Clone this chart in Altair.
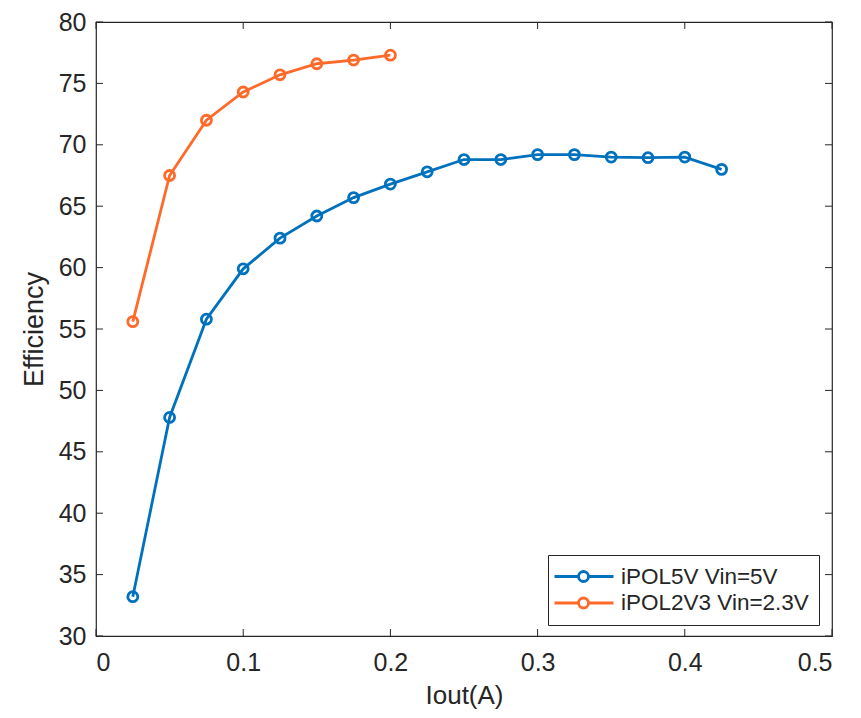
import altair as alt
import pandas as pd

iout_5v = [0.025, 0.05, 0.075, 0.1, 0.125, 0.15, 0.175, 0.2, 0.225, 0.25,
           0.275, 0.3, 0.325, 0.35, 0.375, 0.4, 0.425]
eff_5v = [33.2, 47.8, 55.8, 59.9, 62.4, 64.2, 65.7, 66.8, 67.8, 68.8,
          68.8, 69.2, 69.2, 69.0, 68.95, 69.0, 68.0]
iout_2v3 = [0.025, 0.05, 0.075, 0.1, 0.125, 0.15, 0.175, 0.2]
eff_2v3 = [55.6, 67.5, 72.0, 74.3, 75.7, 76.6, 76.9, 77.3]

series_names = ["iPOL5V Vin=5V", "iPOL2V3 Vin=2.3V"]
series_colors = ["#0072BD", "#FF6A2B"]
x_ticks = [0, 0.1, 0.2, 0.3, 0.4, 0.5]
y_ticks = [30, 35, 40, 45, 50, 55, 60, 65, 70, 75, 80]

W, H = 736, 614
FONT = "Liberation Sans"
TXT = "#262626"

df = pd.concat([
    pd.DataFrame({"Iout": iout_5v, "Eff": eff_5v, "Series": series_names[0]}),
    pd.DataFrame({"Iout": iout_2v3, "Eff": eff_2v3, "Series": series_names[1]}),
])

xscale = alt.Scale(domain=[0, 0.5], nice=False, zero=False)
yscale = alt.Scale(domain=[30, 80], nice=False, zero=False)
cscale = alt.Scale(domain=series_names, range=series_colors)

xaxis = alt.Axis(values=x_ticks, ticks=False, domain=False, grid=False, labelFontSize=25,
                 labelColor=TXT, labelFont=FONT, labelPadding=14, title="Iout(A)",
                 titleFontSize=26, titleFont=FONT, titleColor=TXT, titleFontWeight="normal",
                 titlePadding=7, labelExpr="datum.value == 0 ? '0' : format(datum.value, '.1f')")
yaxis = alt.Axis(values=y_ticks, ticks=False, domain=False, grid=False, labelFontSize=25,
                 labelColor=TXT, labelFont=FONT, labelPadding=10, title="Efficiency",
                 titleFontSize=27, titleFont=FONT, titleColor=TXT, titleFontWeight="normal",
                 titlePadding=10)

legend_symbol = ("M-1.5,0 L0.9,0 M1.9,0 L4.4,0 "
                 "M1.9,0 A0.5,0.5 0 1,1 0.9,0 A0.5,0.5 0 1,1 1.9,0")

color = alt.Color("Series:N", scale=cscale, sort=series_names,
                  legend=alt.Legend(title=None, orient="none", legendX=452, legendY=533,
                                    labelFontSize=22.5, labelFont=FONT, labelColor=TXT,
                                    symbolType=legend_symbol, symbolSize=400,
                                    symbolStrokeWidth=2.8, symbolFillColor="transparent",
                                    strokeColor=TXT, fillColor="white", padding=10,
                                    rowPadding=3.5, labelOffset=40, symbolOffset=0,
                                    labelLimit=400))

base = alt.Chart(df)
lines = base.mark_line(strokeWidth=2.8, clip=True).encode(
    x=alt.X("Iout:Q", scale=xscale, axis=xaxis),
    y=alt.Y("Eff:Q", scale=yscale, axis=yaxis),
    color=color,
    detail="Series:N",
)
points = base.mark_point(shape="circle", size=100, strokeWidth=2.8, filled=False, opacity=1).encode(
    x=alt.X("Iout:Q", scale=xscale, axis=xaxis),
    y=alt.Y("Eff:Q", scale=yscale, axis=yaxis),
    color=alt.Color("Series:N", scale=cscale, legend=None),
)

xt = pd.DataFrame({"Iout": x_ticks})
yt = pd.DataFrame({"Eff": y_ticks})
tick_style = dict(color=TXT, strokeWidth=1)
xb = alt.Chart(xt).mark_rule(**tick_style).encode(
    x=alt.X("Iout:Q", scale=xscale, axis=xaxis), y=alt.value(H), y2=alt.value(H - 7))
xtop = alt.Chart(xt).mark_rule(**tick_style).encode(
    x=alt.X("Iout:Q", scale=xscale, axis=xaxis), y=alt.value(0), y2=alt.value(7))
yl = alt.Chart(yt).mark_rule(**tick_style).encode(
    y=alt.Y("Eff:Q", scale=yscale, axis=yaxis), x=alt.value(0), x2=alt.value(7))
yr = alt.Chart(yt).mark_rule(**tick_style).encode(
    y=alt.Y("Eff:Q", scale=yscale, axis=yaxis), x=alt.value(W), x2=alt.value(W - 7))

chart = alt.layer(lines, points, xb, xtop, yl, yr).properties(
    width=W, height=H,
    autosize=alt.AutoSizeParams(type="none"),
    padding={"left": 88, "top": 14, "right": 13, "bottom": 74},
    background="white",
).configure_view(stroke=TXT, strokeWidth=1.2)

chart.save("out.html", embed_options={"renderer": "svg", "actions": False})
